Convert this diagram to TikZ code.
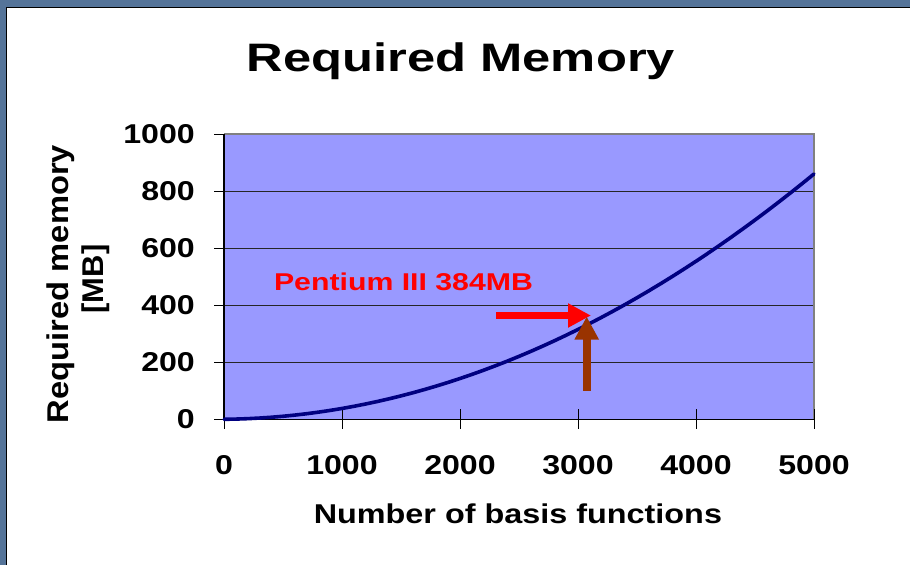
\documentclass[tikz,border=0pt]{standalone}
\usepackage{fontspec}
\setmainfont{Liberation Sans}
\usetikzlibrary{arrows.meta}
\definecolor{slideblue}{HTML}{557499}
\definecolor{plotfill}{HTML}{9999FF}
\definecolor{curvecol}{HTML}{000080}
\definecolor{brownarrow}{HTML}{993300}
\definecolor{bordergray}{HTML}{808080}
\definecolor{labelred}{HTML}{FF0000}
\newcommand\hsq[2]{\scalebox{#1}[1]{#2}}
\tikzset{
  ticklab/.style={inner sep=0pt, font=\bfseries\fontsize{27.2}{28}\selectfont},
  gridln/.style={draw=black!85, line width=1pt},
  tickln/.style={draw=black, line width=1pt},
  blockarrow/.style={line width=7.8pt, -{Triangle[length=23pt,width=22.8pt]}},
}
\begin{document}
\begin{tikzpicture}[x=1pt,y=-1pt]
\useasboundingbox (0,0) rectangle (910,565);
% slide background
\fill[white] (0,0) rectangle (910,565);
\fill[slideblue] (0,0) rectangle (910,7);
\fill[slideblue] (0,0) rectangle (6,565);
\draw[black, line width=1.5pt] (6.5,565) -- (6.5,7.5) -- (910,7.5);
% plot area
\fill[plotfill] (224,134) rectangle (814,419.3);
\foreach \m in {200,400,600,800} {
  \draw[gridln] (224,{419.3-0.2853*\m}) -- (814,{419.3-0.2853*\m});
}
\draw[bordergray, line width=1.5pt] (224,134) -- (814,134) -- (814,419.3);
\draw[black, line width=1.2pt] (224,134) -- (224,419.3) -- (814,419.3);
% y ticks
\foreach \m in {0,200,400,600,800,1000} {
  \draw[tickln] (214,{419.3-0.2853*\m}) -- (224,{419.3-0.2853*\m});
}
% x ticks
\draw[tickln] (224,419.3) -- (224,429.3);
\foreach \t in {1,2,3,4,5} {
  \draw[tickln] ({224+118*\t},409.3) -- ({224+118*\t},429.3);
}
% y tick labels
\node[ticklab, anchor=east] (y0) at (195,419.3) {\hsq{1.18}{0}};
\node[ticklab, anchor=east] (y200) at (195,{419.3-0.2853*200}) {\hsq{1.18}{200}};
\node[ticklab, anchor=east] (y400) at (195,{419.3-0.2853*400}) {\hsq{1.18}{400}};
\node[ticklab, anchor=east] (y600) at (195,{419.3-0.2853*600}) {\hsq{1.18}{600}};
\node[ticklab, anchor=east] (y800) at (195,{419.3-0.2853*800}) {\hsq{1.18}{800}};
\node[ticklab, anchor=east] (y1000) at (195,{419.3-0.2853*1000}) {\hsq{1.18}{1000}};
% x tick labels
\node[ticklab, anchor=base] (x0) at (224,474) {\hsq{1.18}{0}};
\node[ticklab, anchor=base] (x1000) at (342,474) {\hsq{1.18}{1000}};
\node[ticklab, anchor=base] (x2000) at (460,474) {\hsq{1.18}{2000}};
\node[ticklab, anchor=base] (x3000) at (578,474) {\hsq{1.18}{3000}};
\node[ticklab, anchor=base] (x4000) at (696,474) {\hsq{1.18}{4000}};
\node[ticklab, anchor=base] (x5000) at (814,474) {\hsq{1.18}{5000}};
% axis titles
\node[ticklab, anchor=base] (xtitle) at (517.9,523.3) {\hsq{1.19}{Number of basis functions}};
\node[inner sep=0pt, font=\bfseries\fontsize{30}{30}\selectfont, rotate=90, anchor=base] (ytitle1) at (68.3,284) {\hsq{1.09}{Required memory}};
\node[inner sep=0pt, font=\bfseries\fontsize{30}{30}\selectfont, rotate=90, anchor=base] (ytitle2) at (103,279) {\hsq{1.03}{[MB]}};
% title
\node[inner sep=0pt, font=\bfseries\fontsize{39.7}{40}\selectfont, anchor=base] (title) at (460.9,71.7) {\hsq{1.277}{Required Memory}};
% curve
\draw[curvecol, line width=3.6pt, line join=round, line cap=round]
  plot[domain=0:5, samples=51] ({224+118*\x}, {419.3-0.2853*(33.5*\x*\x+4.5*\x)});
% annotation
\node[inner sep=0pt, text=labelred, font=\bfseries\fontsize{24.3}{25}\selectfont, anchor=base] (pentium) at (403.5,290.7) {\hsq{1.245}{Pentium III 384MB}};
\coordinate (redstart) at (496,315.5);
\coordinate (redtip) at (591,315.5);
\coordinate (brownstart) at (586.7,390.7);
\coordinate (browntip) at (586.7,316.5);
\draw[blockarrow, labelred] (redstart) -- (redtip);
\draw[blockarrow, brownarrow] (brownstart) -- (browntip);
\end{tikzpicture}
\end{document}
